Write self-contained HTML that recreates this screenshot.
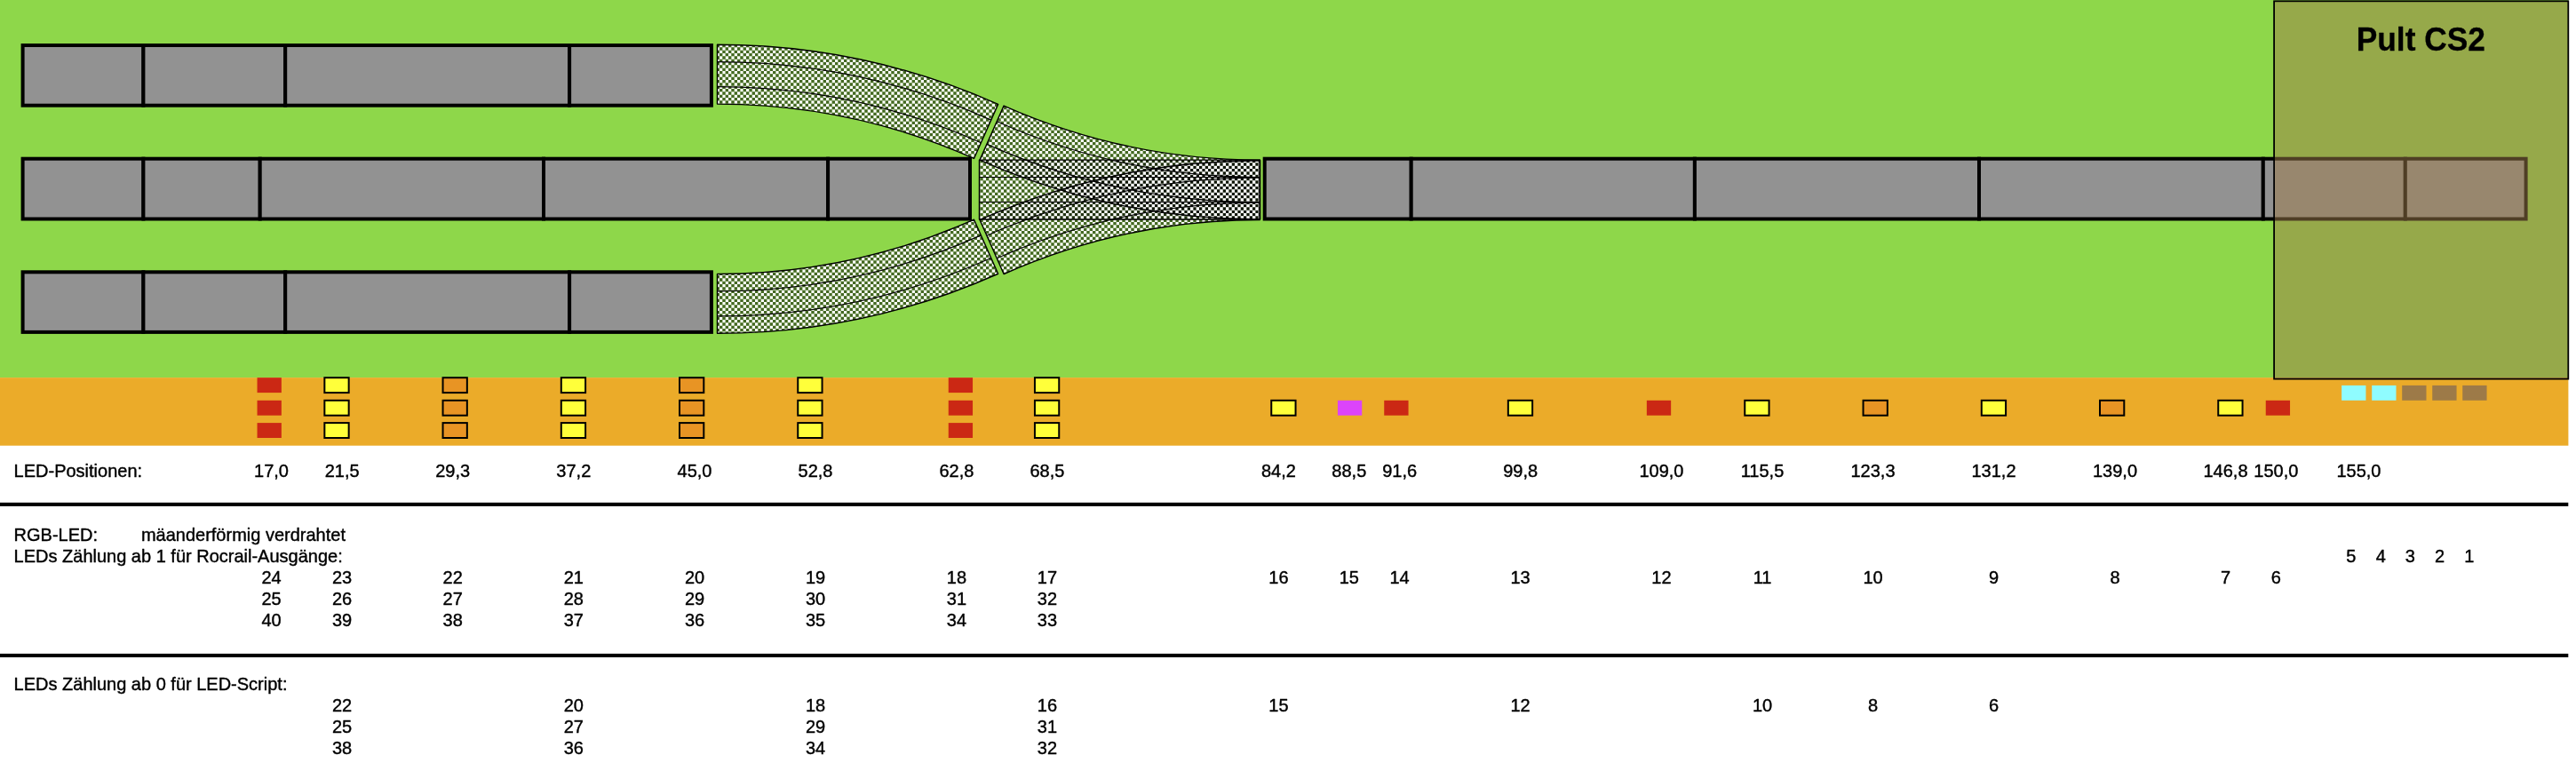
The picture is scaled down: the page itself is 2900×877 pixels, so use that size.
<!DOCTYPE html>
<html><head><meta charset="utf-8"><title>LED-Positionen</title>
<style>
html,body{margin:0;padding:0;background:#fff;}
body{width:2900px;height:877px;overflow:hidden;position:relative;}
svg{position:absolute;left:0;top:0;display:block;}
text{font-family:"Liberation Sans",sans-serif;font-size:20px;fill:#000;stroke:#000;stroke-width:0.4px;stroke-linejoin:round;}
.c{text-anchor:middle;}
.b{font-weight:bold;font-size:35.3px;text-anchor:middle;stroke-width:0.3px;}
</style></head><body>
<svg width="2900" height="877" viewBox="0 0 2900 877">
<defs>
<pattern id="chk" x="0" y="0" width="20" height="20" patternUnits="userSpaceOnUse">
<path d="M0.0000 0.0000H3.3333V3.3333H0.0000ZM6.6667 0.0000H10.0000V3.3333H6.6667ZM13.3333 0.0000H16.6667V3.3333H13.3333ZM3.3333 3.3333H6.6667V6.6667H3.3333ZM10.0000 3.3333H13.3333V6.6667H10.0000ZM16.6667 3.3333H20.0000V6.6667H16.6667ZM0.0000 6.6667H3.3333V10.0000H0.0000ZM6.6667 6.6667H10.0000V10.0000H6.6667ZM13.3333 6.6667H16.6667V10.0000H13.3333ZM3.3333 10.0000H6.6667V13.3333H3.3333ZM10.0000 10.0000H13.3333V13.3333H10.0000ZM16.6667 10.0000H20.0000V13.3333H16.6667ZM0.0000 13.3333H3.3333V16.6667H0.0000ZM6.6667 13.3333H10.0000V16.6667H6.6667ZM13.3333 13.3333H16.6667V16.6667H13.3333ZM3.3333 16.6667H6.6667V20.0000H3.3333ZM10.0000 16.6667H13.3333V20.0000H10.0000ZM16.6667 16.6667H20.0000V20.0000H16.6667Z" fill="#fff"/>
<path d="M3.3333 0.0000H6.6667V3.3333H3.3333ZM10.0000 0.0000H13.3333V3.3333H10.0000ZM16.6667 0.0000H20.0000V3.3333H16.6667ZM0.0000 3.3333H3.3333V6.6667H0.0000ZM6.6667 3.3333H10.0000V6.6667H6.6667ZM13.3333 3.3333H16.6667V6.6667H13.3333ZM3.3333 6.6667H6.6667V10.0000H3.3333ZM10.0000 6.6667H13.3333V10.0000H10.0000ZM16.6667 6.6667H20.0000V10.0000H16.6667ZM0.0000 10.0000H3.3333V13.3333H0.0000ZM6.6667 10.0000H10.0000V13.3333H6.6667ZM13.3333 10.0000H16.6667V13.3333H13.3333ZM3.3333 13.3333H6.6667V16.6667H3.3333ZM10.0000 13.3333H13.3333V16.6667H10.0000ZM16.6667 13.3333H20.0000V16.6667H16.6667ZM0.0000 16.6667H3.3333V20.0000H0.0000ZM6.6667 16.6667H10.0000V20.0000H6.6667ZM13.3333 16.6667H16.6667V20.0000H13.3333Z" fill="#000" fill-opacity="0.52"/>
</pattern>
</defs>
<rect x="0" y="0" width="2891.4" height="425.1" fill="#8ed74a"/>
<rect x="0" y="425.1" width="2891.4" height="76.6" fill="#ebab29"/>
<g fill="#929292" stroke="#000" stroke-width="4">
<rect x="25.6" y="51" width="135.8" height="67.7"/>
<rect x="161.4" y="51" width="159.8" height="67.7"/>
<rect x="321.2" y="51" width="319.9" height="67.7"/>
<rect x="641.1" y="51" width="159.8" height="67.7"/>
</g>
<g fill="#929292" stroke="#000" stroke-width="4">
<rect x="25.6" y="178.7" width="135.8" height="67.8"/>
<rect x="161.4" y="178.7" width="131.3" height="67.8"/>
<rect x="292.7" y="178.7" width="319.3" height="67.8"/>
<rect x="612" y="178.7" width="320.1" height="67.8"/>
<rect x="932.1" y="178.7" width="159.9" height="67.8"/>
</g>
<g fill="#929292" stroke="#000" stroke-width="4">
<rect x="1423.7" y="178.7" width="165" height="67.8"/>
<rect x="1588.7" y="178.7" width="319.2" height="67.8"/>
<rect x="1907.9" y="178.7" width="320.1" height="67.8"/>
<rect x="2228" y="178.7" width="319.8" height="67.8"/>
<rect x="2547.8" y="178.7" width="160" height="67.8"/>
<rect x="2707.8" y="178.7" width="135.8" height="67.8"/>
</g>
<g fill="#929292" stroke="#000" stroke-width="4">
<rect x="25.6" y="306.3" width="135.8" height="67.6"/>
<rect x="161.4" y="306.3" width="159.8" height="67.6"/>
<rect x="321.2" y="306.3" width="319.9" height="67.6"/>
<rect x="641.1" y="306.3" width="159.8" height="67.6"/>
</g>
<g fill="url(#chk)">
<path d="M807.5 50.3 A778.4 778.4 0 0 1 1123.61 117.38 L1096.48 178.42 A711.6 711.6 0 0 0 807.5 117.1 Z"/>
<path d="M807.5 375.3 A778.4 778.4 0 0 0 1123.61 308.22 L1096.48 247.18 A711.6 711.6 0 0 1 807.5 308.5 Z"/>
<path d="M1418.4 246.9 A778.4 778.4 0 0 1 1103.04 180.16 L1130.1 119.08 A711.6 711.6 0 0 0 1418.4 180.1 Z"/>
<path d="M1418.4 180.7 A778.4 778.4 0 0 0 1103.04 247.44 L1130.1 308.52 A711.6 711.6 0 0 1 1418.4 247.5 Z"/>
<path d="M1102.5 180.1 H1418.4 V246.9 H1102.5 Z"/>
</g>
<g stroke="#000" fill="none" stroke-linejoin="round">
<path d="M807.5 50.3 A778.4 778.4 0 0 1 1123.61 117.38 L1096.48 178.42 A711.6 711.6 0 0 0 807.5 117.1 Z" stroke-width="1.45"/>
<path d="M807.5 69.7 A759 759 0 0 1 1115.73 135.1 M807.5 97.7 A731 731 0 0 1 1104.36 160.69" stroke-width="1.2"/>
<path d="M807.5 375.3 A778.4 778.4 0 0 0 1123.61 308.22 L1096.48 247.18 A711.6 711.6 0 0 1 807.5 308.5 Z" stroke-width="1.45"/>
<path d="M807.5 355.9 A759 759 0 0 0 1115.73 290.5 M807.5 327.9 A731 731 0 0 0 1104.36 264.91" stroke-width="1.2"/>
<path d="M1418.4 246.9 A778.4 778.4 0 0 1 1103.04 180.16 L1130.1 119.08 A711.6 711.6 0 0 0 1418.4 180.1 Z" stroke-width="1.45"/>
<path d="M1418.4 227.5 A759 759 0 0 1 1110.9 162.42 M1418.4 199.5 A731 731 0 0 1 1122.24 136.82" stroke-width="1.2"/>
<path d="M1418.4 180.7 A778.4 778.4 0 0 0 1103.04 247.44 L1130.1 308.52 A711.6 711.6 0 0 1 1418.4 247.5 Z" stroke-width="1.45"/>
<path d="M1418.4 200.1 A759 759 0 0 0 1110.9 265.18 M1418.4 228.1 A731 731 0 0 0 1122.24 290.78" stroke-width="1.2"/>
<path d="M1102.5 180.1 H1418.4 V246.9 H1102.5 Z" stroke-width="1.45"/>
<path d="M1102.5 199.5 H1418.4 M1102.5 227.5 H1418.4" stroke-width="1.2"/>
</g>
<rect x="289.55" y="425.2" width="27.3" height="16.9" fill="#cb2814"/>
<rect x="289.55" y="450.8" width="27.3" height="16.9" fill="#cb2814"/>
<rect x="289.55" y="476.1" width="27.3" height="16.9" fill="#cb2814"/>
<rect x="365.35" y="425.2" width="27.3" height="16.9" fill="#ffff3a" stroke="#000" stroke-width="2"/>
<rect x="365.35" y="450.8" width="27.3" height="16.9" fill="#ffff3a" stroke="#000" stroke-width="2"/>
<rect x="365.35" y="476.1" width="27.3" height="16.9" fill="#ffff3a" stroke="#000" stroke-width="2"/>
<rect x="498.55" y="425.2" width="27.3" height="16.9" fill="#e89424" stroke="#000" stroke-width="2"/>
<rect x="498.55" y="450.8" width="27.3" height="16.9" fill="#e89424" stroke="#000" stroke-width="2"/>
<rect x="498.55" y="476.1" width="27.3" height="16.9" fill="#e89424" stroke="#000" stroke-width="2"/>
<rect x="631.8" y="425.2" width="27.3" height="16.9" fill="#ffff3a" stroke="#000" stroke-width="2"/>
<rect x="631.8" y="450.8" width="27.3" height="16.9" fill="#ffff3a" stroke="#000" stroke-width="2"/>
<rect x="631.8" y="476.1" width="27.3" height="16.9" fill="#ffff3a" stroke="#000" stroke-width="2"/>
<rect x="765" y="425.2" width="27.3" height="16.9" fill="#e89424" stroke="#000" stroke-width="2"/>
<rect x="765" y="450.8" width="27.3" height="16.9" fill="#e89424" stroke="#000" stroke-width="2"/>
<rect x="765" y="476.1" width="27.3" height="16.9" fill="#e89424" stroke="#000" stroke-width="2"/>
<rect x="898.25" y="425.2" width="27.3" height="16.9" fill="#ffff3a" stroke="#000" stroke-width="2"/>
<rect x="898.25" y="450.8" width="27.3" height="16.9" fill="#ffff3a" stroke="#000" stroke-width="2"/>
<rect x="898.25" y="476.1" width="27.3" height="16.9" fill="#ffff3a" stroke="#000" stroke-width="2"/>
<rect x="1067.75" y="425.2" width="27.3" height="16.9" fill="#cb2814"/>
<rect x="1067.75" y="450.8" width="27.3" height="16.9" fill="#cb2814"/>
<rect x="1067.75" y="476.1" width="27.3" height="16.9" fill="#cb2814"/>
<rect x="1164.95" y="425.2" width="27.3" height="16.9" fill="#ffff3a" stroke="#000" stroke-width="2"/>
<rect x="1164.95" y="450.8" width="27.3" height="16.9" fill="#ffff3a" stroke="#000" stroke-width="2"/>
<rect x="1164.95" y="476.1" width="27.3" height="16.9" fill="#ffff3a" stroke="#000" stroke-width="2"/>
<rect x="1431.25" y="450.8" width="27.3" height="16.9" fill="#ffff3a" stroke="#000" stroke-width="2"/>
<rect x="1505.95" y="450.8" width="27.3" height="16.9" fill="#dc44fa"/>
<rect x="1558.25" y="450.8" width="27.3" height="16.9" fill="#cb2814"/>
<rect x="1697.85" y="450.8" width="27.3" height="16.9" fill="#ffff3a" stroke="#000" stroke-width="2"/>
<rect x="1853.85" y="450.8" width="27.3" height="16.9" fill="#cb2814"/>
<rect x="1964.25" y="450.8" width="27.3" height="16.9" fill="#ffff3a" stroke="#000" stroke-width="2"/>
<rect x="2097.55" y="450.8" width="27.3" height="16.9" fill="#e89424" stroke="#000" stroke-width="2"/>
<rect x="2230.8" y="450.8" width="27.3" height="16.9" fill="#ffff3a" stroke="#000" stroke-width="2"/>
<rect x="2364" y="450.8" width="27.3" height="16.9" fill="#e89424" stroke="#000" stroke-width="2"/>
<rect x="2497.25" y="450.8" width="27.3" height="16.9" fill="#ffff3a" stroke="#000" stroke-width="2"/>
<rect x="2550.75" y="450.8" width="27.3" height="16.9" fill="#cb2814"/>
<rect x="2636.15" y="433.9" width="27.3" height="16.9" fill="#8ffcff"/>
<rect x="2670.2" y="433.9" width="27.3" height="16.9" fill="#8ffcff"/>
<rect x="2704.2" y="433.9" width="27.3" height="16.9" fill="#9d7a48"/>
<rect x="2738.25" y="433.9" width="27.3" height="16.9" fill="#9d7a48"/>
<rect x="2772.25" y="433.9" width="27.3" height="16.9" fill="#9d7a48"/>
<rect x="2560.1" y="1.3" width="331.2" height="425.3" fill="#9e7c4a" fill-opacity="0.5" stroke="#000" stroke-width="1.8"/>
<g style="filter:grayscale(1)">
<text class="b" transform="translate(2725.3 57.3) scale(1 1.03)">Pult CS2</text>
<rect x="0" y="565.8" width="2891.3" height="4.1" fill="#000"/>
<rect x="0" y="735.9" width="2891.3" height="4.1" fill="#000"/>
<text transform="translate(15.6 536.8) scale(1 1.03)">LED-Positionen:</text>
<text class="c" transform="translate(305.5 536.8) scale(1 1.03)">17,0</text>
<text class="c" transform="translate(385.1 536.8) scale(1 1.03)">21,5</text>
<text class="c" transform="translate(509.7 536.8) scale(1 1.03)">29,3</text>
<text class="c" transform="translate(645.8 536.8) scale(1 1.03)">37,2</text>
<text class="c" transform="translate(782 536.8) scale(1 1.03)">45,0</text>
<text class="c" transform="translate(918 536.8) scale(1 1.03)">52,8</text>
<text class="c" transform="translate(1076.9 536.8) scale(1 1.03)">62,8</text>
<text class="c" transform="translate(1178.9 536.8) scale(1 1.03)">68,5</text>
<text class="c" transform="translate(1439.4 536.8) scale(1 1.03)">84,2</text>
<text class="c" transform="translate(1518.8 536.8) scale(1 1.03)">88,5</text>
<text class="c" transform="translate(1575.6 536.8) scale(1 1.03)">91,6</text>
<text class="c" transform="translate(1711.6 536.8) scale(1 1.03)">99,8</text>
<text class="c" transform="translate(1870.4 536.8) scale(1 1.03)">109,0</text>
<text class="c" transform="translate(1984 536.8) scale(1 1.03)">115,5</text>
<text class="c" transform="translate(2108.5 536.8) scale(1 1.03)">123,3</text>
<text class="c" transform="translate(2244.5 536.8) scale(1 1.03)">131,2</text>
<text class="c" transform="translate(2381 536.8) scale(1 1.03)">139,0</text>
<text class="c" transform="translate(2505.5 536.8) scale(1 1.03)">146,8</text>
<text class="c" transform="translate(2562.3 536.8) scale(1 1.03)">150,0</text>
<text class="c" transform="translate(2655.4 536.8) scale(1 1.03)">155,0</text>
<text transform="translate(15.6 608.8) scale(1 1.03)">RGB-LED:</text>
<text transform="translate(158.9 608.8) scale(1 1.03)">mäanderförmig verdrahtet</text>
<text transform="translate(15.6 632.8) scale(1 1.03)">LEDs Zählung ab 1 für Rocrail-Ausgänge:</text>
<text class="c" transform="translate(2646.9 632.5) scale(1 1.03)">5</text>
<text class="c" transform="translate(2680.2 632.5) scale(1 1.03)">4</text>
<text class="c" transform="translate(2713.3 632.5) scale(1 1.03)">3</text>
<text class="c" transform="translate(2746.6 632.5) scale(1 1.03)">2</text>
<text class="c" transform="translate(2779.9 632.5) scale(1 1.03)">1</text>
<text class="c" transform="translate(305.5 656.8) scale(1 1.03)">24</text>
<text class="c" transform="translate(385.1 656.8) scale(1 1.03)">23</text>
<text class="c" transform="translate(509.7 656.8) scale(1 1.03)">22</text>
<text class="c" transform="translate(645.8 656.8) scale(1 1.03)">21</text>
<text class="c" transform="translate(782 656.8) scale(1 1.03)">20</text>
<text class="c" transform="translate(918 656.8) scale(1 1.03)">19</text>
<text class="c" transform="translate(1076.9 656.8) scale(1 1.03)">18</text>
<text class="c" transform="translate(1178.9 656.8) scale(1 1.03)">17</text>
<text class="c" transform="translate(1439.4 656.8) scale(1 1.03)">16</text>
<text class="c" transform="translate(1518.8 656.8) scale(1 1.03)">15</text>
<text class="c" transform="translate(1575.6 656.8) scale(1 1.03)">14</text>
<text class="c" transform="translate(1711.6 656.8) scale(1 1.03)">13</text>
<text class="c" transform="translate(1870.4 656.8) scale(1 1.03)">12</text>
<text class="c" transform="translate(1984 656.8) scale(1 1.03)">11</text>
<text class="c" transform="translate(2108.5 656.8) scale(1 1.03)">10</text>
<text class="c" transform="translate(2244.5 656.8) scale(1 1.03)">9</text>
<text class="c" transform="translate(2381 656.8) scale(1 1.03)">8</text>
<text class="c" transform="translate(2505.5 656.8) scale(1 1.03)">7</text>
<text class="c" transform="translate(2562.3 656.8) scale(1 1.03)">6</text>
<text class="c" transform="translate(305.5 680.8) scale(1 1.03)">25</text>
<text class="c" transform="translate(385.1 680.8) scale(1 1.03)">26</text>
<text class="c" transform="translate(509.7 680.8) scale(1 1.03)">27</text>
<text class="c" transform="translate(645.8 680.8) scale(1 1.03)">28</text>
<text class="c" transform="translate(782 680.8) scale(1 1.03)">29</text>
<text class="c" transform="translate(918 680.8) scale(1 1.03)">30</text>
<text class="c" transform="translate(1076.9 680.8) scale(1 1.03)">31</text>
<text class="c" transform="translate(1178.9 680.8) scale(1 1.03)">32</text>
<text class="c" transform="translate(305.5 704.8) scale(1 1.03)">40</text>
<text class="c" transform="translate(385.1 704.8) scale(1 1.03)">39</text>
<text class="c" transform="translate(509.7 704.8) scale(1 1.03)">38</text>
<text class="c" transform="translate(645.8 704.8) scale(1 1.03)">37</text>
<text class="c" transform="translate(782 704.8) scale(1 1.03)">36</text>
<text class="c" transform="translate(918 704.8) scale(1 1.03)">35</text>
<text class="c" transform="translate(1076.9 704.8) scale(1 1.03)">34</text>
<text class="c" transform="translate(1178.9 704.8) scale(1 1.03)">33</text>
<text transform="translate(15.6 776.6) scale(1 1.03)">LEDs Zählung ab 0 für LED-Script:</text>
<text class="c" transform="translate(385.1 800.6) scale(1 1.03)">22</text>
<text class="c" transform="translate(645.8 800.6) scale(1 1.03)">20</text>
<text class="c" transform="translate(918 800.6) scale(1 1.03)">18</text>
<text class="c" transform="translate(1178.9 800.6) scale(1 1.03)">16</text>
<text class="c" transform="translate(1439.4 800.6) scale(1 1.03)">15</text>
<text class="c" transform="translate(1711.6 800.6) scale(1 1.03)">12</text>
<text class="c" transform="translate(1984 800.6) scale(1 1.03)">10</text>
<text class="c" transform="translate(2108.5 800.6) scale(1 1.03)">8</text>
<text class="c" transform="translate(2244.5 800.6) scale(1 1.03)">6</text>
<text class="c" transform="translate(385.1 824.6) scale(1 1.03)">25</text>
<text class="c" transform="translate(645.8 824.6) scale(1 1.03)">27</text>
<text class="c" transform="translate(918 824.6) scale(1 1.03)">29</text>
<text class="c" transform="translate(1178.9 824.6) scale(1 1.03)">31</text>
<text class="c" transform="translate(385.1 848.6) scale(1 1.03)">38</text>
<text class="c" transform="translate(645.8 848.6) scale(1 1.03)">36</text>
<text class="c" transform="translate(918 848.6) scale(1 1.03)">34</text>
<text class="c" transform="translate(1178.9 848.6) scale(1 1.03)">32</text>
</g>
</svg>
</body></html>
